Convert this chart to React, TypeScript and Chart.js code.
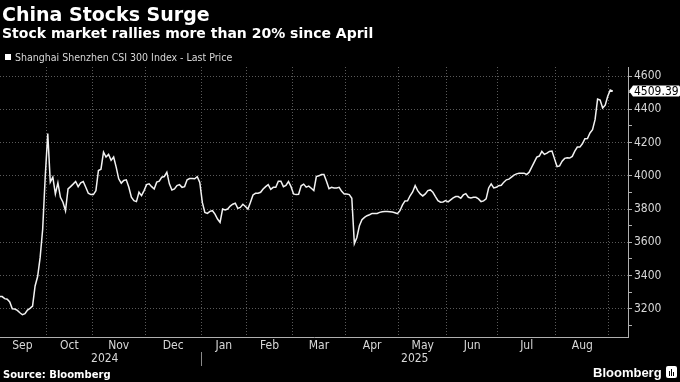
import React, { useEffect, useRef } from 'react';
import { Chart, registerables } from 'chart.js';

Chart.register(...registerables);

// ---- Data: CSI 300 daily closes, one array per month ----
const sep2024 = [3273, 3273, 3261, 3257, 3241, 3200, 3198, 3190, 3176, 3164, 3170, 3192, 3202, 3216, 3337, 3394, 3509, 3680, 3995];
const oct2024 = [4254, 3962, 3992, 3891, 3958, 3871, 3841, 3790, 3921, 3935, 3950, 3966, 3935, 3958, 3966, 3931, 3895, 3887];
const nov2024 = [3887, 3911, 4032, 4040, 4143, 4113, 4129, 4093, 4113, 4052, 3982, 3956, 3972, 3976, 3931, 3871, 3851, 3845, 3901, 3881, 3911];
const dec2024 = [3947, 3952, 3935, 3921, 3962, 3968, 3992, 3996, 4022, 3952, 3915, 3921, 3941, 3947, 3931, 3935, 3976, 3984, 3984, 3982, 3995, 3960];
const jan2025 = [3840, 3780, 3774, 3786, 3790, 3770, 3740, 3720, 3800, 3794, 3800, 3818, 3829, 3835, 3804, 3810, 3829, 3815];
const feb2025 = [3800, 3841, 3885, 3895, 3895, 3901, 3921, 3935, 3947, 3919, 3931, 3931, 3968, 3968, 3935, 3943, 3966, 3935];
const mar2025 = [3891, 3887, 3889, 3940, 3950, 3932, 3938, 3925, 3911, 3996, 4000, 4008, 4008, 3968, 3923, 3931, 3927, 3927, 3931, 3907, 3891];
const apr2025 = [3891, 3887, 3865, 3592, 3629, 3700, 3736, 3750, 3760, 3766, 3774, 3774, 3774, 3780, 3784, 3786, 3786, 3784, 3782, 3778, 3772];
const may2025 = [3790, 3825, 3849, 3850, 3880, 3903, 3941, 3911, 3891, 3879, 3891, 3911, 3915, 3901, 3875, 3851, 3841, 3843, 3851];
const jun2025 = [3843, 3855, 3867, 3875, 3875, 3865, 3885, 3893, 3871, 3867, 3871, 3871, 3861, 3845, 3849, 3861, 3927, 3951, 3927, 3931];
const jul2025 = [3941, 3943, 3962, 3976, 3980, 3992, 4004, 4012, 4016, 4016, 4016, 4008, 4022, 4052, 4082, 4113, 4119, 4147, 4129, 4137, 4147, 4149, 4102];
const aug2025 = [4056, 4060, 4088, 4105, 4109, 4107, 4117, 4149, 4173, 4173, 4193, 4223, 4225, 4258, 4278, 4338, 4462, 4456, 4408, 4425, 4479];
const sep2025 = [4516, 4509.39];

const monthNames = ['Sep', 'Oct', 'Nov', 'Dec', 'Jan', 'Feb', 'Mar', 'Apr', 'May', 'Jun', 'Jul', 'Aug'];
const yearNames = ['2024', '2025'];
const yTicks = [3100, 3200, 3300, 3400, 3500, 3600, 3700, 3800, 3900, 4000, 4100, 4200, 4300, 4400, 4500, 4600];
const yLabelEvery = 200;
const lastValueLabel = '4509.39';
const seriesName = 'Shanghai Shenzhen CSI 300 Index - Last Price';

const FONT_NARROW = "'DejaVu Sans Condensed', 'Liberation Sans Narrow', 'Liberation Sans', sans-serif";

const months = [sep2024, oct2024, nov2024, dec2024, jan2025, feb2025, mar2025, apr2025, may2025, jun2025, jul2025, aug2025, sep2025];
const values = months.flat();
const starts: number[] = [];
{
  let acc = 0;
  for (const m of months) { starts.push(acc); acc += m.length; }
  starts.push(acc);
}
const boundaries = starts.slice(1, months.length).map((s) => s - 0.5);
const centers = monthNames.map((_, k) => (starts[k] - 0.5 + starts[k + 1] - 0.5) / 2);
const boundarySet = new Set(boundaries);
const centerLabel = new Map(centers.map((c, k) => [c, monthNames[k]] as [number, string]));
const xTickValues = [...boundaries, ...centers].sort((a, b) => a - b);
const janBoundary = starts[4] - 0.5;

const overlayPlugin = {
  id: 'overlay',
  afterDraw(chart: any) {
    const { ctx, chartArea } = chart;
    const xs = chart.scales.x;
    const ys = chart.scales.y;
    ctx.save();
    // year separator + year labels
    const janPx = Math.round(xs.getPixelForValue(janBoundary)) + 0.5;
    ctx.strokeStyle = '#8a8a8a';
    ctx.lineWidth = 1;
    ctx.beginPath();
    ctx.moveTo(janPx, xs.top + 15);
    ctx.lineTo(janPx, xs.top + 29);
    ctx.stroke();
    ctx.fillStyle = '#d8d8d8';
    ctx.font = `12px ${FONT_NARROW}`;
    ctx.textAlign = 'center';
    ctx.textBaseline = 'middle';
    ctx.fillText(yearNames[0], (chartArea.left + janPx) / 2 + 4, xs.top + 22);
    ctx.fillText(yearNames[1], (janPx + chartArea.right) / 2, xs.top + 22);
    // last value tag
    const yp = Math.round(ys.getPixelForValue(values[values.length - 1]));
    const ax = chartArea.right + 1;
    const h = 5.5;
    ctx.fillStyle = '#ffffff';
    ctx.beginPath();
    ctx.moveTo(ax, yp);
    ctx.lineTo(ax + 4, yp - h);
    ctx.lineTo(679, yp - h);
    ctx.lineTo(680, yp - h + 1);
    ctx.lineTo(680, yp + h - 1);
    ctx.lineTo(679, yp + h);
    ctx.lineTo(ax + 4, yp + h);
    ctx.closePath();
    ctx.fill();
    ctx.fillStyle = '#000000';
    ctx.textAlign = 'left';
    ctx.fillText(lastValueLabel, ax + 5, yp + 0.5);
    ctx.restore();
  },
};

export default function App() {
  const ref = useRef<HTMLCanvasElement | null>(null);

  useEffect(() => {
    if (!ref.current) return;
    const chart = new Chart(ref.current, {
      type: 'line',
      data: {
        datasets: [
          {
            label: seriesName,
            data: values.map((v, i) => ({ x: i, y: v })),
            borderColor: '#f2f2f2',
            borderWidth: 1.5,
            pointRadius: 0,
            tension: 0,
            fill: false,
          },
        ],
      },
      options: {
        animation: false,
        responsive: false,
        maintainAspectRatio: false,
        layout: { padding: { top: 67, left: 0, right: 0, bottom: 0 } },
        plugins: { legend: { display: false }, tooltip: { enabled: false } },
        scales: {
          x: {
            type: 'linear',
            position: 'bottom',
            min: 0.15,
            max: 248,
            afterBuildTicks: (s: any) => {
              s.ticks = xTickValues.map((v) => ({ value: v }));
            },
            afterFit: (s: any) => {
              s.height = 45;
            },
            grid: {
              color: (c: any) => (c.tick && boundarySet.has(c.tick.value) ? '#5a5a5a' : 'rgba(0,0,0,0)'),
              drawTicks: false,
              lineWidth: 1,
            },
            border: { display: true, color: '#b0b0b0', width: 1, dash: [1, 2] },
            ticks: {
              autoSkip: false,
              maxRotation: 0,
              minRotation: 0,
              padding: 2,
              color: '#d8d8d8',
              font: { family: FONT_NARROW, size: 12 },
              callback: (v: any) => centerLabel.get(v) || '',
            },
          },
          y: {
            position: 'right',
            min: 3030,
            max: 4655,
            afterBuildTicks: (s: any) => {
              s.ticks = yTicks.map((v) => ({ value: v }));
            },
            afterFit: (s: any) => {
              s.width = 52;
            },
            grid: {
              color: (c: any) => (c.tick && c.tick.value % yLabelEvery === 0 ? '#5a5a5a' : 'rgba(0,0,0,0)'),
              tickColor: '#b0b0b0',
              tickLength: 4,
              drawTicks: true,
              lineWidth: 1,
            },
            border: { display: true, color: '#b0b0b0', width: 1, dash: [1, 2] },
            ticks: {
              autoSkip: false,
              padding: 2,
              color: '#d8d8d8',
              font: { family: FONT_NARROW, size: 12 },
              callback: (v: any) => (v % yLabelEvery === 0 ? String(v) : ''),
            },
          },
        },
      },
      plugins: [overlayPlugin],
    } as any);
    return () => chart.destroy();
  }, []);

  return (
    <div style={{ position: 'fixed', left: 0, top: 0, width: 680, height: 382, background: '#000', overflow: 'hidden' }}>
      <canvas ref={ref} width={680} height={382} style={{ position: 'absolute', left: 0, top: 0, width: 680, height: 382 }} />
      <div style={{ position: 'absolute', left: 2, top: 5, color: '#fff', font: "bold 19px 'DejaVu Sans', sans-serif", lineHeight: '19px', whiteSpace: 'nowrap' }}>
        China Stocks Surge
      </div>
      <div style={{ position: 'absolute', left: 2, top: 25.5, color: '#fff', font: "bold 14px 'DejaVu Sans', sans-serif", lineHeight: '14px', whiteSpace: 'nowrap' }}>
        Stock market rallies more than 20% since April
      </div>
      <div style={{ position: 'absolute', left: 5, top: 54, width: 6, height: 6, background: '#fff' }} />
      <div style={{ position: 'absolute', left: 15, top: 50, color: '#d8d8d8', font: `10.5px ${FONT_NARROW}`, lineHeight: '14px', whiteSpace: 'nowrap' }}>
        {seriesName}
      </div>
      <div style={{ position: 'absolute', left: 3, top: 369, color: '#fff', font: "bold 10px 'DejaVu Sans', sans-serif", lineHeight: '11px', whiteSpace: 'nowrap' }}>
        Source: Bloomberg
      </div>
      <div style={{ position: 'absolute', left: 593, top: 366, color: '#fff', font: "bold 13px 'Liberation Sans', Arial, sans-serif", lineHeight: '14px', whiteSpace: 'nowrap' }}>
        Bloomberg
      </div>
      <div style={{ position: 'absolute', left: 666, top: 366, width: 11, height: 12, background: '#fff', borderRadius: 2 }}>
        <div style={{ position: 'absolute', left: 3, top: 5, width: 1, height: 5, background: '#000' }} />
        <div style={{ position: 'absolute', left: 5, top: 3, width: 1, height: 7, background: '#000' }} />
        <div style={{ position: 'absolute', left: 7, top: 6, width: 1, height: 4, background: '#000' }} />
      </div>
    </div>
  );
}
